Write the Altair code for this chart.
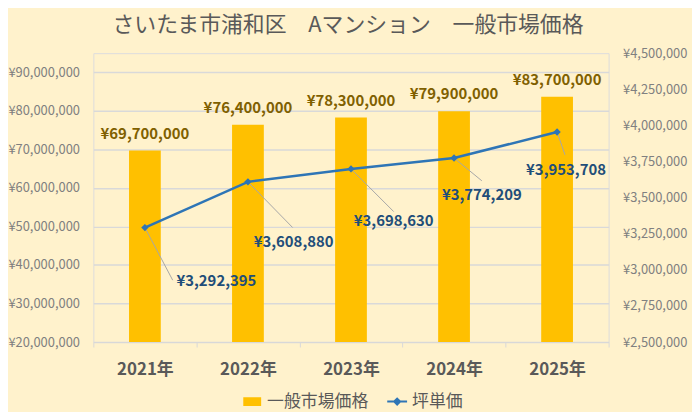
import altair as alt
import pandas as pd

# ---------------- data ----------------
years = ["2021年", "2022年", "2023年", "2024年", "2025年"]
market_price = [69700000, 76400000, 78300000, 79900000, 83700000]   # 一般市場価格
tsubo_price = [3292395, 3608880, 3698630, 3774209, 3953708]          # 坪単価
left_ticks = [20000000, 30000000, 40000000, 50000000, 60000000, 70000000, 80000000, 90000000]
right_ticks = [2500000, 2750000, 3000000, 3250000, 3500000, 3750000, 4000000, 4250000, 4500000]
series_names = ["一般市場価格", "坪単価"]
title_text = "さいたま市浦和区　Aマンション　一般市場価格"

df = pd.DataFrame({"year": years, "price": market_price, "tsubo": tsubo_price})
legend_df = pd.DataFrame({"series": series_names})

# ---------------- styles ----------------
FONT = "Noto Sans CJK JP"
BAR_COLOR = "#FFC000"
LINE_COLOR = "#2E75B6"
series_colors = [BAR_COLOR, LINE_COLOR]
legend_symbols = ["M-0.8,-0.35H0.8V0.35H-0.8Z", "M-1,0H1M0,-0.3L0.3,0L0,0.3L-0.3,0Z"]
# manual data-label placement of the line labels (label dx, dy, leader end dx, dy) in px
line_label_offsets = [(72, 54, 28, 53), (46, 61, 45, 46), (43, 53, 43, 43), (28, 37, 28, 23), (9, 38, 8, 23)]

x_enc = alt.X(
    "year:N", sort=years,
    scale=alt.Scale(type="band", paddingInner=0, paddingOuter=0),
    axis=alt.Axis(title=None, tickBand="extent", domainColor="#D9D9D9", tickColor="#D9D9D9",
                  tickSize=5, domainWidth=1, labelFont=FONT, labelFontSize=17, labelFontWeight="bold",
                  labelColor="#595959", labelPadding=15, labelAngle=0, grid=False),
)

y_left = alt.Y(
    "price:Q",
    scale=alt.Scale(domain=[20000000, 95000000], nice=False, zero=False),
    axis=alt.Axis(title=None, values=left_ticks, labelExpr='"¥" + format(datum.value, ",")',
                  grid=True, gridColor="#D9D9D9", gridWidth=1.5, domain=False, ticks=False, tickSize=0,
                  labelColor="#808080", labelFontSize=13, labelFont=FONT, labelPadding=14),
)

y_right = alt.Y(
    "tsubo:Q",
    scale=alt.Scale(domain=[2500000, 4500000], nice=False, zero=False),
    axis=alt.Axis(title=None, orient="right", values=right_ticks,
                  labelExpr='"¥" + format(datum.value, ",")', grid=False, domain=False,
                  ticks=False, tickSize=0, labelColor="#808080", labelFontSize=13,
                  labelFont=FONT, labelPadding=14),
)

base = alt.Chart(df)

bars = base.mark_bar(width=32, color=BAR_COLOR, clip=True).encode(x=x_enc, y=y_left)
bar_labels = base.transform_calculate(
    lbl='"¥" + format(datum.price, ",")'
).mark_text(dy=-17, font=FONT, fontSize=15, fontWeight="bold", color="#7F6000").encode(
    x=x_enc, y=y_left, text="lbl:N"
)
bar_group = alt.layer(bars, bar_labels)

line_layers = []
for yr, (ldx, ldy, ex, ey) in zip(years, line_label_offsets):
    sub = base.transform_filter(alt.datum.year == yr)
    line_layers.append(
        sub.mark_point(shape=f"M0,0L{ex},{ey}", size=4, color="#A6A6A6", strokeWidth=1,
                       opacity=1, filled=False).encode(x=x_enc, y=y_right)
    )
line = base.mark_line(color=LINE_COLOR, strokeWidth=2.5).encode(x=x_enc, y=y_right)
points = base.mark_point(shape="diamond", filled=True, size=55, color=LINE_COLOR, opacity=1).encode(
    x=x_enc, y=y_right)
line_layers += [line, points]
for yr, (ldx, ldy, ex, ey) in zip(years, line_label_offsets):
    sub = base.transform_filter(alt.datum.year == yr).transform_calculate(
        lbl='"¥" + format(datum.tsubo, ",")')
    line_layers.append(
        sub.mark_text(dx=ldx, dy=ldy, font=FONT, fontSize=15, fontWeight="bold",
                      color="#1F4E79").encode(x=x_enc, y=y_right, text="lbl:N")
    )
line_group = alt.layer(*line_layers)

leg = alt.Legend(title=None, orient="none", legendX=149, legendY=340, direction="horizontal",
                 symbolSize=400, symbolStrokeWidth=2, labelFont=FONT, labelFontSize=17,
                 labelColor="#595959", labelOffset=4, columnPadding=15, padding=0)
legend_layer = alt.Chart(legend_df).mark_point(clip=True, opacity=1, size=400, strokeWidth=2).encode(
    x=alt.value(-60), y=alt.value(-60),
    fill=alt.Fill("series:N", scale=alt.Scale(domain=series_names, range=series_colors), legend=leg),
    stroke=alt.Stroke("series:N", scale=alt.Scale(domain=series_names, range=series_colors), legend=leg),
    shape=alt.Shape("series:N", scale=alt.Scale(domain=series_names, range=legend_symbols), legend=leg),
)

chart = alt.layer(bar_group, line_group, legend_layer).resolve_scale(y="independent").properties(
    width=519, height=291,
    autosize="none",
    padding={"left": 86, "top": 44, "right": 84, "bottom": 69},
    background="#FFF2CC",
    title=alt.Title(title_text, font=FONT, fontSize=22, fontWeight="normal", color="#595959",
                    anchor="middle", frame="group", offset=10, dx=-3),
).configure_view(stroke=None).configure(font=FONT)

chart.save("out.html", embed_options={"renderer": "svg", "actions": False})
